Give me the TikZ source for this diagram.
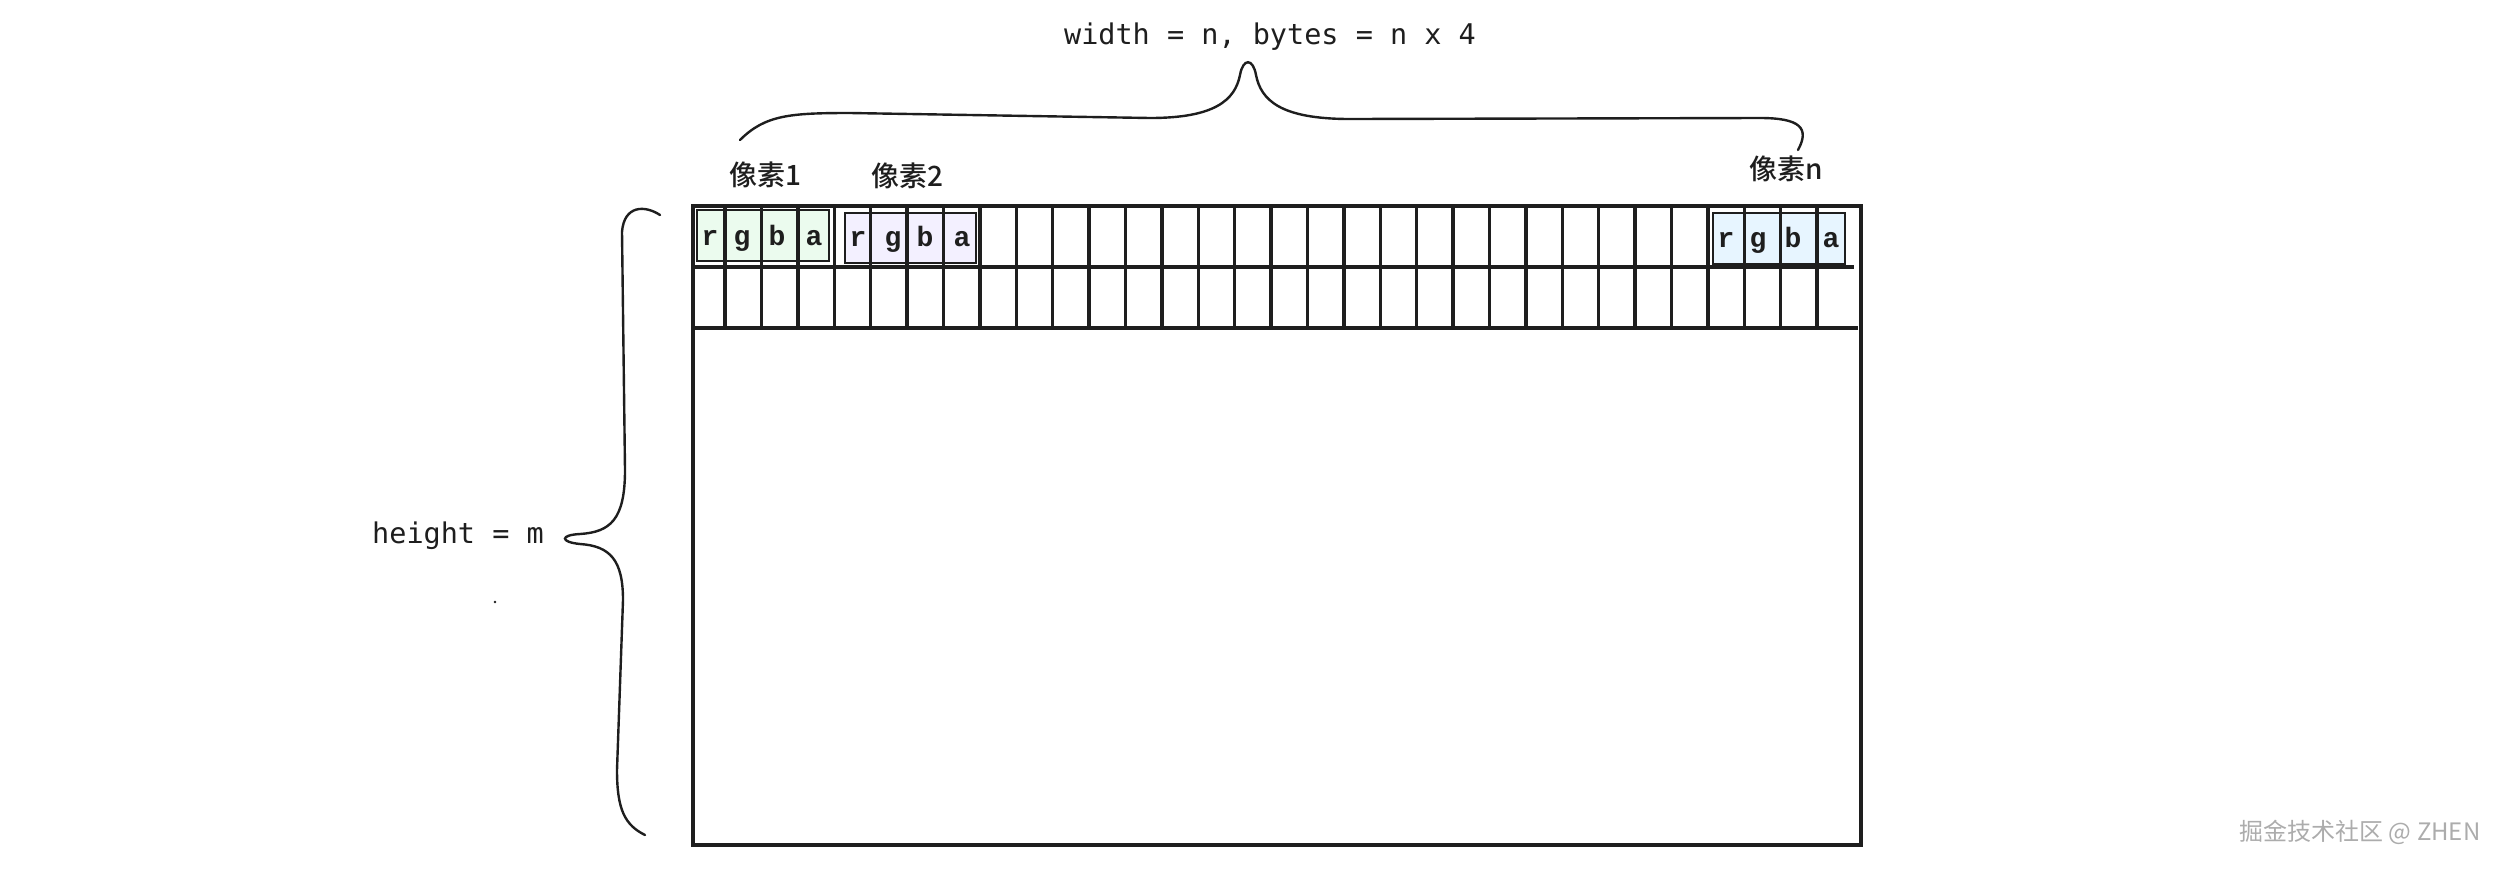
\documentclass[tikz,border=0pt]{standalone}
\usepackage{fontspec}
\setmonofont{DejaVu Sans Mono}
\newfontfamily\cjkfont{Noto Sans CJK SC}[BoldFont={* Medium}]
\newfontfamily\cellfont{Liberation Mono}
\definecolor{pxgreen}{HTML}{EBFBEE}
\definecolor{pxviolet}{HTML}{F3F0FF}
\definecolor{pxblue}{HTML}{E7F5FF}
\definecolor{ink}{HTML}{1E1E1E}

\tikzset{
  lbl/.style={font=\ttfamily\fontsize{28.5}{34}\selectfont, anchor=base, inner sep=0pt, text=ink},
  pxlbl/.style={font=\cjkfont\bfseries\fontsize{28}{34}\selectfont, anchor=base, inner sep=0pt, text=ink},
  chan/.style={font=\cellfont\bfseries\fontsize{28}{32}\selectfont, anchor=base, inner sep=0pt, text=ink},
  pxbox/.style={draw=ink, line width=1.4pt},
  brace/.style={draw=ink, line width=2.4pt, line cap=round},
}

\begin{document}
\begin{tikzpicture}[x=1pt,y=-1pt]
    \useasboundingbox (0,0) rectangle (2510,868);
    % pixel boxes
    \draw[pxbox,fill=pxgreen] (697,210) rectangle (829,261);
    \draw[pxbox,fill=pxviolet] (845,213) rectangle (976,263);
    \draw[pxbox,fill=pxblue] (1713,213) rectangle (1845,264);
    % frame and grid
    \draw[ink,line width=3.8pt] (693,206) rectangle (1861,845);
    \draw[ink,line width=3.6pt] (693,267) -- (1854,267);
    \draw[ink,line width=3.6pt] (693,328) -- (1858,328);
    \foreach \k in {0,...,30} \draw[ink,line width=3.4pt] ({725+36.4*\k},206) -- ({725+36.4*\k},328);
    % channel letters
    \foreach \c/\x in {r/710,g/742,b/777,a/814} \node[chan] (p1\c) at (\x,245) {\c};
    \foreach \c/\x in {r/858,g/893,b/925,a/962} \node[chan] (p2\c) at (\x,246) {\c};
    \foreach \c/\x in {r/1726,g/1758,b/1793,a/1831} \node[chan] (pn\c) at (\x,247) {\c};
    % pixel labels
    \node[pxlbl] (px1) at (765,185) {像素1};
    \node[pxlbl] (px2) at (907,186) {像素2};
    \node[pxlbl] (pxn) at (1786,179) {像素n};
    % braces
    \draw[brace] (740,140) .. controls (765,115) and (790,113) .. (850,113)
        -- (1150,118) .. controls (1215,118) and (1235,100) .. (1240,75)
        .. controls (1243,58) and (1253,58) .. (1256,75)
        .. controls (1261,100) and (1280,119) .. (1350,119)
        -- (1760,118) .. controls (1800,118) and (1810,128) .. (1798,150);
    \draw[brace] (660,215) .. controls (645,205) and (624,205) .. (622,232)
        -- (625,470) .. controls (625,520) and (610,532) .. (580,534)
        .. controls (560,535) and (560,542) .. (580,544)
        .. controls (610,546) and (623,560) .. (623,600)
        -- (617,770) .. controls (617,810) and (625,825) .. (645,835);
    % measures
    \node[lbl] (wlbl) at (1270,44) {width = n, bytes = n x 4};
    \node[lbl] (hlbl) at (458,543) {height = m};
    \fill[ink] (495,602) circle (1.3pt);
    \node[font=\cjkfont\fontsize{24}{28}\selectfont, anchor=base, inner sep=0pt, text=gray!65] (mark) at (2360,840) {掘金技术社区 @ ZHEN};
\end{tikzpicture}
\end{document}
